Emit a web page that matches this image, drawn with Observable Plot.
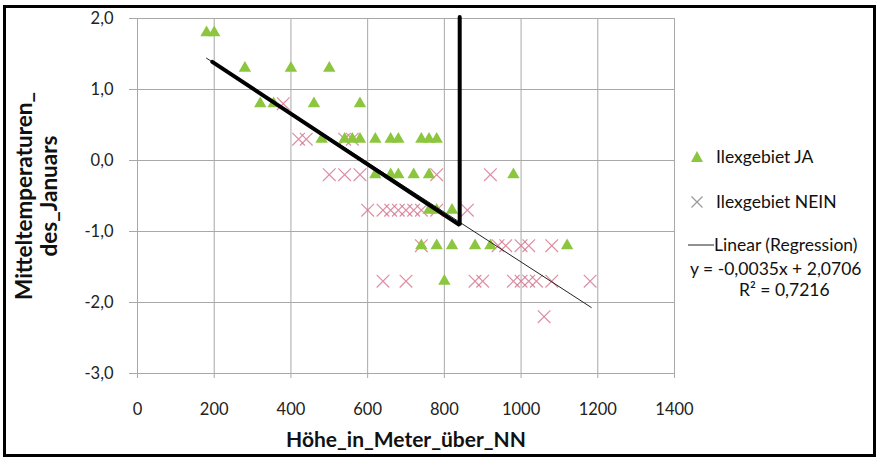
<!DOCTYPE html>
<html><head><meta charset="utf-8">
<script src="https://cdn.jsdelivr.net/npm/d3@7"></script>
<script src="https://cdn.jsdelivr.net/npm/@observablehq/plot@0.6"></script>
<style>
body{margin:0;background:#fff;font-family:Lato,sans-serif}
#wrap{position:relative;width:876px;height:457px;overflow:hidden}
#frame{position:absolute;left:3px;top:5px;width:867px;height:446px;border:3px solid #000;pointer-events:none}
.leg{position:absolute;font-size:17.5px;color:#111;white-space:nowrap;line-height:22px}
</style></head><body><div id="wrap"><div id="chart"></div><div id="frame"></div>
<svg style="position:absolute;left:690px;top:150px" width="14" height="13"><path d="M7,1 L13,12 L1,12 Z" fill="#8cc63f"/></svg>
<div class="leg" style="left:716px;top:146px">Ilexgebiet JA</div>
<svg style="position:absolute;left:690px;top:195px" width="14" height="14"><path d="M1.5,1.5 L12.5,12.5 M12.5,1.5 L1.5,12.5" stroke="#999" stroke-width="1.2"/></svg>
<div class="leg" style="left:716px;top:191px">Ilexgebiet NEIN</div>
<svg style="position:absolute;left:688px;top:240px" width="26" height="10"><line x1="0" y1="5" x2="26" y2="5" stroke="#222" stroke-width="1"/></svg>
<div class="leg" style="left:714px;top:234px">Linear (Regression)</div>
<div class="leg" style="left:690px;top:258px">y = -0,0035x + 2,0706</div>
<div class="leg" style="left:739px;top:279px">R² = 0,7216</div>
</div>
<script>
// Ilexgebiet JA (triangles)
const jaX = [180,200, 280,400,500, 320,355,460,580, 480,540,560,580,620,660,680,740,760,780, 620,660,680,720,760,980, 760,780,820, 740,780,820,880,920,1120, 800];
const jaY = [1.8,1.8, 1.3,1.3,1.3, 0.8,0.8,0.8,0.8, 0.3,0.3,0.3,0.3,0.3,0.3,0.3,0.3,0.3,0.3, -0.2,-0.2,-0.2,-0.2,-0.2,-0.2, -0.7,-0.7,-0.7, -1.2,-1.2,-1.2,-1.2,-1.2,-1.2, -1.7];
// Ilexgebiet NEIN (crosses)
const neinX = [380, 420,440,540,560, 500,540,580,780,920, 600,640,660,680,700,720,740,780,860, 740,940,960,1000,1020,1080, 640,700,880,900,980,1000,1020,1040,1080,1180, 1060];
const neinY = [0.8, 0.3,0.3,0.3,0.3, -0.2,-0.2,-0.2,-0.2,-0.2, -0.7,-0.7,-0.7,-0.7,-0.7,-0.7,-0.7,-0.7,-0.7, -1.2,-1.2,-1.2,-1.2,-1.2,-1.2, -1.7,-1.7,-1.7,-1.7,-1.7,-1.7,-1.7,-1.7,-1.7,-1.7, -2.2];
// Linear regression (from chart equation)
const regSlope = -0.0035, regIntercept = 2.0706;
const regX = [180, 1183];
// hand-drawn thick annotation line
const annotX = [195, 840, 840];
const annotY = [1.39, -0.91, 2.02];
const xTicks = [0,200,400,600,800,1000,1200,1400];
const yTicks = [-3,-2,-1,0,1,2];
const xTitle = "Höhe_in_Meter_über_NN";
const yTitle = ["Mitteltemperaturen_", "des_Januars"];

const ja = jaX.map((x,i)=>({x, y: jaY[i]}));
const nein = neinX.map((x,i)=>({x, y: neinY[i]}));
const reg = regX.map(x=>({x, y: regSlope*x + regIntercept}));
const annot = annotX.map((x,i)=>({x, y: annotY[i]}));
const grid = "#a8a8a8";

const chart = Plot.plot({
  width: 876, height: 457,
  marginLeft: 137, marginRight: 202, marginTop: 18, marginBottom: 84,
  style: {fontFamily: "Lato, sans-serif", fontSize: "16.5px", color: "#222", background: "transparent"},
  x: {domain: [0,1400]},
  y: {domain: [-3,2]},
  marks: [
    Plot.ruleX(xTicks, {stroke: grid}),
    Plot.ruleY(yTicks, {stroke: grid}),
    Plot.axisX({ticks: xTicks, tickSize: 5, tickPadding: 25, label: null, stroke: grid, fill: "#222", tickFormat: d => String(d)}),
    Plot.axisY({ticks: yTicks, tickSize: 8, tickPadding: 16, label: null, stroke: grid, fill: "#222", tickFormat: d => d.toFixed(1).replace(".", ",")}),
    Plot.dot(nein, {x: "x", y: "y", symbol: "times", r: 5.8, stroke: "#d4728c", strokeWidth: 1.2, strokeOpacity: 0.8}),
    Plot.dot(ja, {x: "x", y: "y", symbol: "triangle", r: 4.6, fill: "#8cc63f", stroke: "none"}),
    Plot.line(reg, {x: "x", y: "y", stroke: "#222", strokeWidth: 1}),
    Plot.line(annot, {x: "x", y: "y", stroke: "#000", strokeWidth: 4, strokeLinejoin: "miter"}),
    Plot.text([xTitle], {text: d => d, frameAnchor: "bottom", dy: 73, fontWeight: "bold", fontSize: 21, fill: "#111"}),
    Plot.text([yTitle[0]], {text: d => d, frameAnchor: "left", textAnchor: "middle", dx: -113, rotate: -90, fontWeight: "bold", fontSize: 22.5, fill: "#111"}),
    Plot.text([yTitle[1]], {text: d => d, frameAnchor: "left", textAnchor: "middle", dx: -88, rotate: -90, fontWeight: "bold", fontSize: 22.5, fill: "#111"})
  ]
});
document.getElementById("chart").append(chart);
</script>
</body></html>
